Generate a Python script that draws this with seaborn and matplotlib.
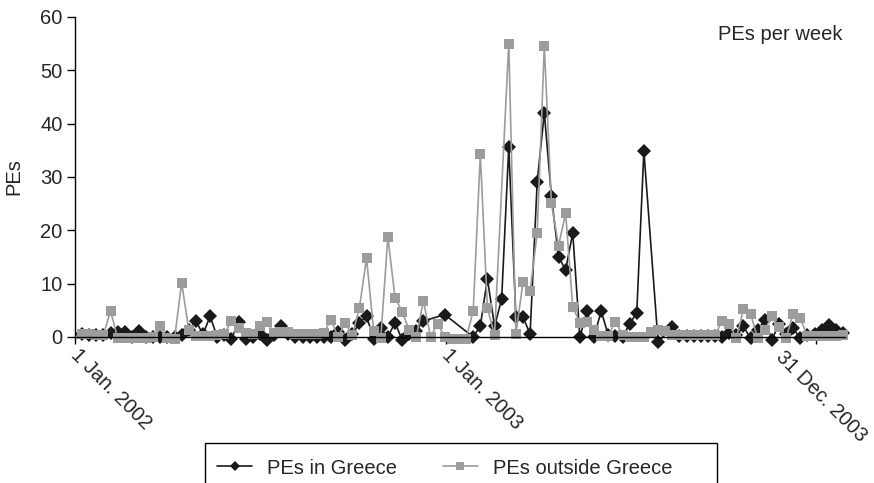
import numpy as np
import pandas as pd
import matplotlib
matplotlib.use("Agg")
import matplotlib.pyplot as plt
import matplotlib.dates as mdates
import matplotlib.transforms as mtransforms
from matplotlib.patches import Rectangle
import seaborn as sns

nan = np.nan
# weekly reporting dates
start_date = "2002-01-08"
n_weeks = 108

pes_outside = [0.5, 0.5, 0.4, 0.4, 4.9, -0.2, -0.2, -0.2, -0.2, -0.2,
               0, 2, -0.2, -0.3, 10.2, 1.3, 0.1, 0.1, 0.1, 0.3,
               0.5, 3, 1.6, 0.8, 0.5, 2, 2.8, 0.7, 1, 1,
               0.5, 0.5, 0.5, 0.5, 0.8, 3.2, 0, 2.7, 0.3, 5.5,
               14.75, 1.2, -0.25, 18.8, 7.4, 4.75, 1.3, 0, 6.8, 0,
               2.5, 0, -0.3, -0.3, -0.3, 4.9, 34.3, 5.4, 0.4, nan,
               55, 0.5, 10.3, 8.6, 19.5, 54.5, 25.1, 17.1, 23.2, 5.6,
               2.7, 2.8, 1.3, 0.25, 0.25, 2.9, 0.4, 0, 0, 0,
               1, 1.3, 1.1, 0.3, 0.3, 0.3, 0.3, 0.3, 0.3, 0.3,
               3, 2.5, -0.25, 5.2, 4.4, -0.25, 1.3, 3.9, 1.8, -0.25,
               4.4, 3.5, 0.2, 0.2, 0.2, 0.2, 0.2, 0.3]

pes_greece = [0.5, 0.4, 0.3, 0.3, 0.7, 1.0, 1.0, 0, 1.2, 0,
              0, 0, 0, 0, 0.3, 1.3, 3, 0.5, 3.9, 0,
              0.3, -0.4, 2.9, -0.3, 0, 0.6, -0.6, 0.3, 2, 0.6,
              0, 0, 0, 0, 0, 0, 1, -0.5, 0.5, 2.7,
              3.9, -0.4, 1.6, 0, 2.7, -0.5, 0.5, 1.2, 3, nan,
              nan, 4.2, nan, nan, nan, 0, 2.1, 10.9, 2, 7.1,
              35.6, 3.8, 3.8, 0.5, 29.1, 42, 26.4, 15, 12.6, 19.5,
              0, 4.8, 0, 4.9, 0.3, 0.2, 0, 2.5, 4.5, 34.9,
              nan, -0.9, nan, 1.8, 0.1, 0.1, 0.1, 0.1, 0.1, 0.1,
              0, 0.8, 0.3, 2, -0.25, 1.3, 3.2, -0.5, 2.4, 0.5,
              1.6, -0.25, 0.3, 0.5, 1.4, 2.2, 1.3, 0.7]

series_names = ["PEs in Greece", "PEs outside Greece"]
tick_dates = ["2002-01-01", "2003-01-01", "2003-12-31"]
tick_labels = ["1 Jan. 2002", "1 Jan. 2003", "31 Dec. 2003"]
y_ticks = [0, 10, 20, 30, 40, 50, 60]

dates = pd.date_range(start_date, periods=n_weeks, freq="7D")
df = pd.DataFrame({"date": dates,
                   series_names[0]: pes_greece,
                   series_names[1]: pes_outside})
long = df.melt(id_vars="date", var_name="series", value_name="PEs").dropna()

sns.set_style("white")
plt.rcParams["font.family"] = ["Liberation Sans", "DejaVu Sans"]
FS = 14.5

fig = plt.figure(figsize=(8.74, 4.83), dpi=100)
ax = fig.add_axes([75 / 874, 1 - 337 / 483, 770 / 874, 320 / 483])

sns.lineplot(data=long, x="date", y="PEs", hue="series", style="series",
             hue_order=series_names, style_order=series_names,
             palette={series_names[0]: "#1a1a1a", series_names[1]: "#9c9c9c"},
             markers={series_names[0]: "D", series_names[1]: "s"},
             dashes=False, linewidth=1.2, markersize=6.5,
             markeredgewidth=0, ax=ax, legend=True, sort=True)

for ln in ax.lines:
    ln.set_clip_on(False)
    if ln.get_marker() == "D":
        ln.set_markersize(7)

ax.set_ylim(0, 60)
ax.set_xlim(pd.Timestamp("2002-01-01"), pd.Timestamp("2004-01-29"))
ax.set_yticks(y_ticks)
ax.set_yticklabels([str(v) for v in y_ticks], fontsize=FS)
ax.set_xticks([mdates.date2num(pd.Timestamp(d)) for d in tick_dates])
ax.set_xticklabels(tick_labels, fontsize=FS, rotation=-45, ha="left",
                   va="top", rotation_mode="anchor")
ax.tick_params(axis="x", direction="out", length=5, width=1, color="black",
               bottom=True, pad=4)
ax.tick_params(axis="y", direction="out", length=6, width=1, color="black",
               left=True, pad=3)
# nudge rotated date labels; the last one is pulled in to fit the figure
offsets = [(6, 4), (6, 4), (-30, 2)]
for lab, (dx, dy) in zip(ax.get_xticklabels(), offsets):
    lab.set_transform(lab.get_transform() +
                      mtransforms.ScaledTranslation(dx / 100, dy / 100,
                                                    fig.dpi_scale_trans))
ax.set_xlabel("")
ax.set_ylabel("PEs", fontsize=FS, labelpad=12)
for s in ["top", "right"]:
    ax.spines[s].set_visible(False)
for s in ["left", "bottom"]:
    ax.spines[s].set_color("black")
    ax.spines[s].set_linewidth(1)

ax.text(0.997, 0.975, "PEs per week", transform=ax.transAxes, ha="right",
        va="top", fontsize=FS)

handles, labels = ax.get_legend_handles_labels()
ax.get_legend().remove()
pairs = [(h, l) for h, l in zip(handles, labels) if l in series_names]
for h, _ in pairs:
    h.set_linewidth(1.2)
    h.set_markersize(5.5)
leg = fig.legend([p[0] for p in pairs], [p[1] for p in pairs],
                 loc="center left", bbox_to_anchor=(217 / 874, 1 - 468 / 483),
                 ncol=2, fontsize=FS, frameon=False, borderpad=0,
                 borderaxespad=0, handlelength=1.75, columnspacing=2.25,
                 handletextpad=0.75)
fig.add_artist(Rectangle((205 / 874, -12 / 483), 512 / 874, (483 - 443 + 12) / 483,
                         transform=fig.transFigure, fill=False,
                         edgecolor="black", linewidth=1, clip_on=False))

fig.savefig("out.png", dpi=100)
